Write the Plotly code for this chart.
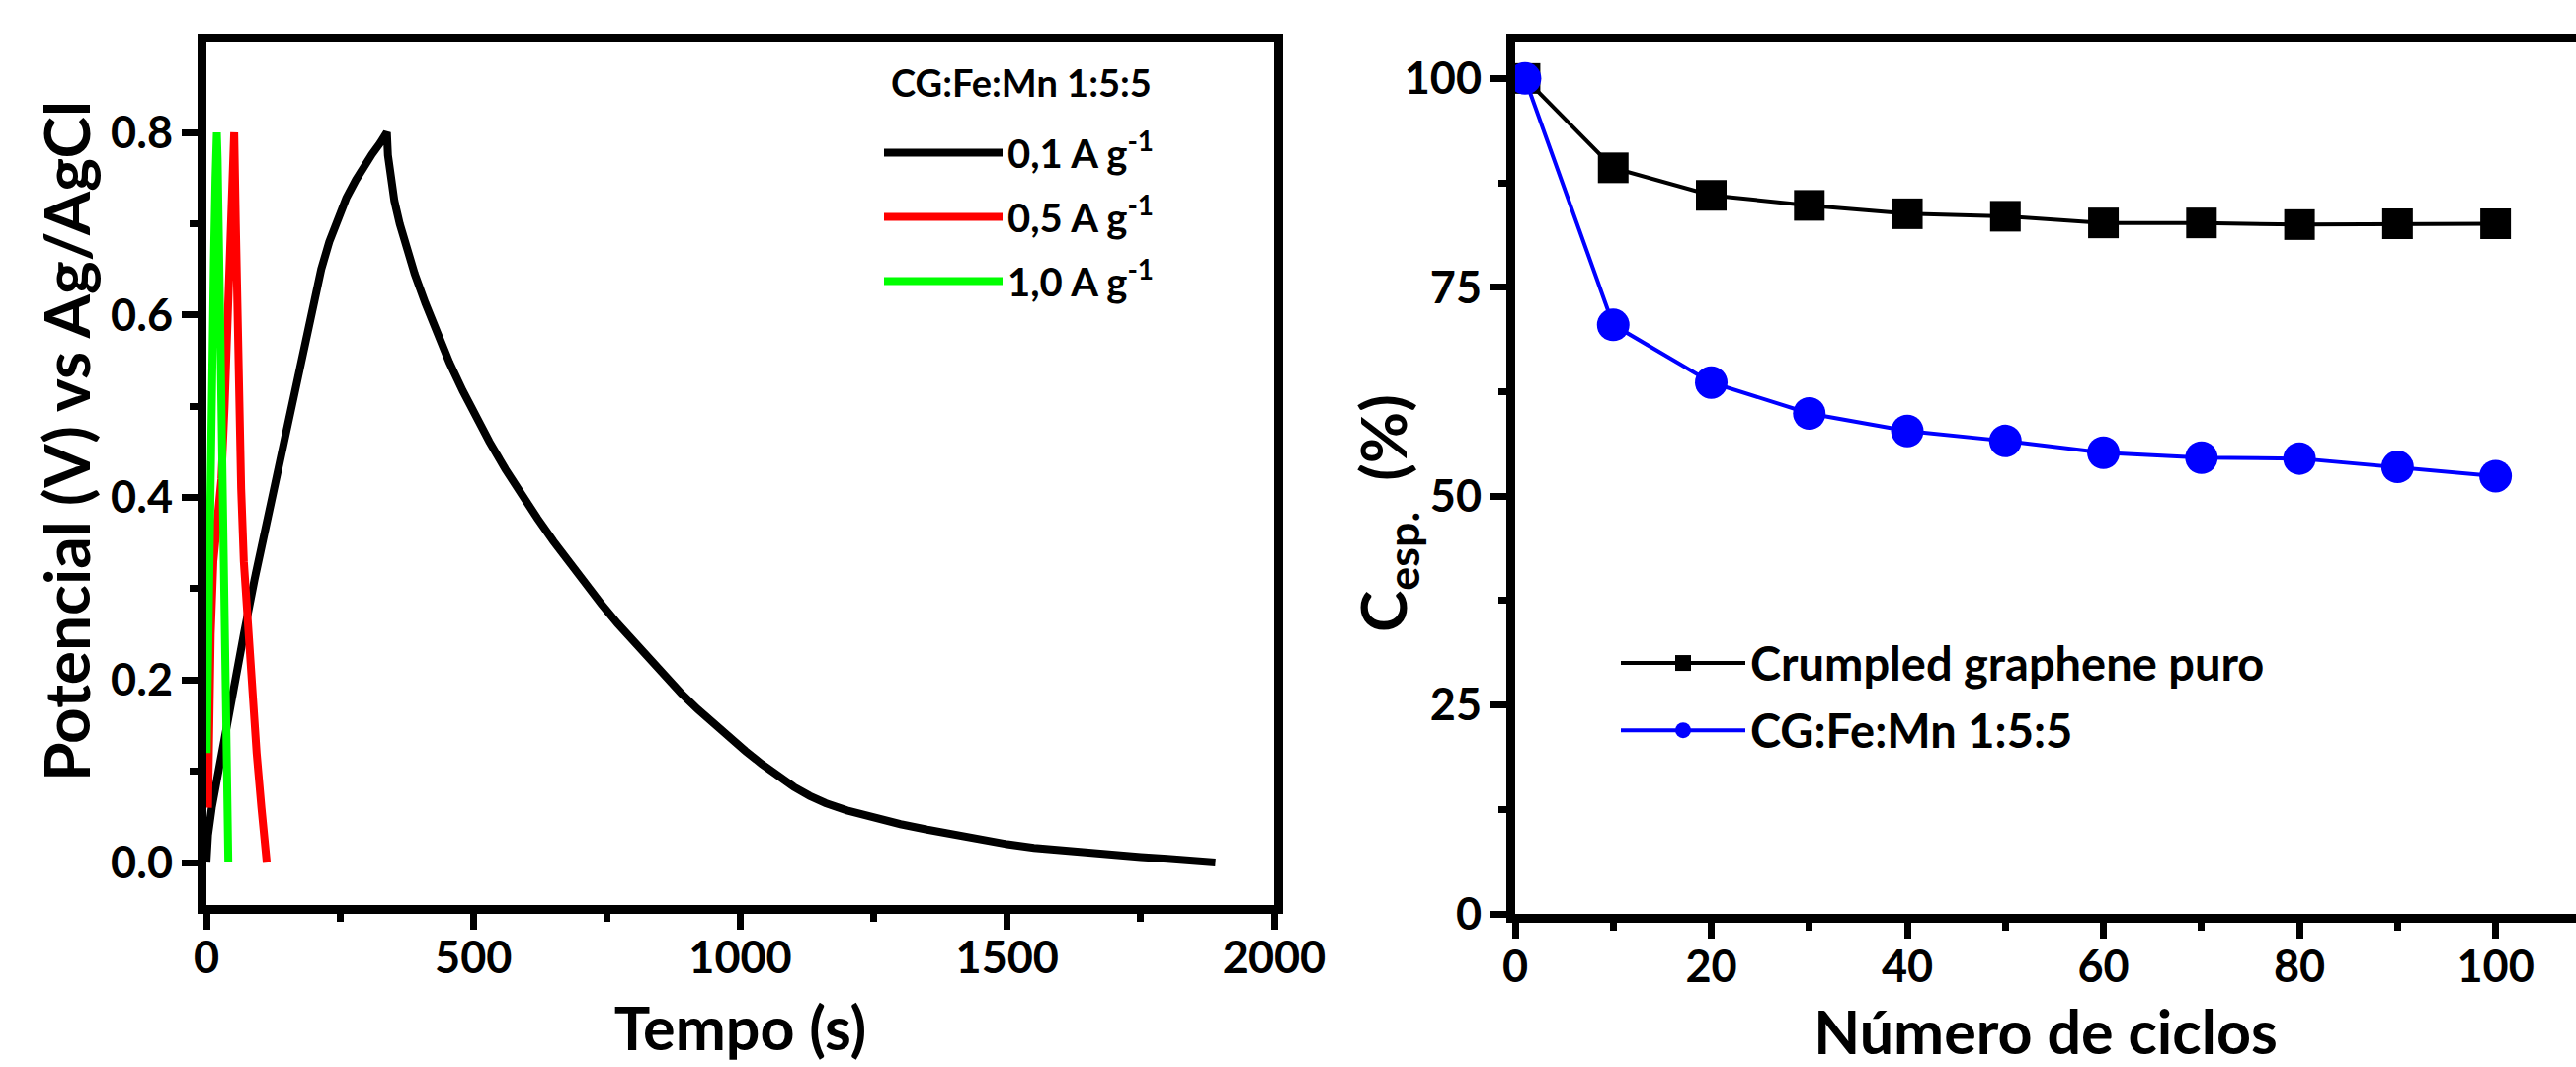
import plotly.graph_objects as go

# ---------------- Data ----------------
# Left panel: galvanostatic charge/discharge, CG:Fe:Mn 1:5:5
t_01 = [0, 3, 10, 25, 40, 55, 70, 90, 110, 130, 150, 168, 185, 200, 215, 230, 245,
        262, 280, 295, 310, 325, 338,
        340, 345, 352, 362, 375, 390, 410, 430, 455, 480, 505, 530, 560, 590, 620,
        650, 680, 710, 740, 770, 800, 830, 860, 890, 920, 950, 980, 1010, 1040,
        1070, 1100, 1130, 1160, 1200, 1250, 1300, 1350, 1400, 1450, 1500, 1550,
        1600, 1650, 1700, 1750, 1800, 1850, 1890]
v_01 = [0.0, 0.03, 0.06, 0.11, 0.16, 0.205, 0.25, 0.31, 0.365, 0.425, 0.48, 0.53, 0.575,
        0.615, 0.65, 0.68, 0.705, 0.728, 0.748, 0.763, 0.776, 0.788, 0.80,
        0.775, 0.75, 0.725, 0.70, 0.672, 0.645, 0.613, 0.583, 0.548, 0.517, 0.488,
        0.461, 0.431, 0.403, 0.377, 0.352, 0.328, 0.305, 0.283, 0.262, 0.242, 0.222,
        0.203, 0.185, 0.168, 0.152, 0.137, 0.122, 0.108, 0.095, 0.083, 0.073, 0.065,
        0.057, 0.049, 0.042, 0.036, 0.030, 0.025, 0.020, 0.016, 0.013, 0.010, 0.008,
        0.006, 0.004, 0.002, 0.0]

t_05 = [3, 4, 8, 13, 20, 28, 34, 40, 46, 52,
        55, 58, 61, 65, 70, 77, 85, 94, 103, 113]
v_05 = [0.06, 0.12, 0.25, 0.33, 0.38, 0.42, 0.50, 0.60, 0.70, 0.80,
        0.70, 0.60, 0.50, 0.41, 0.33, 0.26, 0.19, 0.12, 0.06, 0.0]

t_10 = [0.5, 2, 5, 8, 11, 14, 17, 19.5,
        21, 24, 27, 30, 33, 36, 38.5, 41]
v_10 = [0.12, 0.20, 0.33, 0.45, 0.56, 0.66, 0.75, 0.80,
        0.77, 0.66, 0.52, 0.36, 0.22, 0.12, 0.06, 0.0]

# Right panel: capacitance retention vs cycle number
ciclos = [1, 10, 20, 30, 40, 50, 60, 70, 80, 90, 100]
cg_puro = [100, 89.3, 86.0, 84.8, 83.8, 83.5, 82.7, 82.7, 82.5, 82.6, 82.6]
cg_femn = [100, 70.5, 63.6, 59.9, 57.8, 56.6, 55.2, 54.6, 54.5, 53.5, 52.4]

left_names = ["0,1 A g<sup>-1</sup>", "0,5 A g<sup>-1</sup>", "1,0 A g<sup>-1</sup>"]
right_names = ["Crumpled graphene puro", "CG:Fe:Mn 1:5:5"]
left_legend_title = "CG:Fe:Mn 1:5:5"

# ---------------- Figure ----------------
W, H = 2608, 1080
FONT = "Lato"

fig = go.Figure()

for t, v, name, col, grp in [(t_01, v_01, left_names[0], "#000000", "a"),
                             (t_05, v_05, left_names[1], "#FF0000", "b"),
                             (t_10, v_10, left_names[2], "#00FF00", "c")]:
    fig.add_trace(go.Scatter(x=t, y=v, mode="lines", name=name,
                             line=dict(color=col, width=8),
                             xaxis="x", yaxis="y", legend="legend",
                             legendgroup=grp, cliponaxis=True))

fig.add_trace(go.Scatter(x=ciclos, y=cg_puro, mode="lines+markers", name=right_names[0],
                         line=dict(color="#000000", width=4),
                         marker=dict(symbol="square", size=31, color="#000000"),
                         xaxis="x2", yaxis="y2", legend="legend2", legendgroup="d",
                         cliponaxis=False))
fig.add_trace(go.Scatter(x=ciclos, y=cg_femn, mode="lines+markers", name=right_names[1],
                         line=dict(color="#0000FF", width=4),
                         marker=dict(symbol="circle", size=33, color="#0000FF"),
                         xaxis="x2", yaxis="y2", legend="legend2", legendgroup="e",
                         cliponaxis=False))

tickfont = dict(family=FONT, size=45, color="black", weight="bold")
titlefont = dict(family=FONT, size=61, color="black", weight="bold")
ytitlefont = dict(family=FONT, size=64, color="black", weight="bold")


def axis(**kw):
    base = dict(showline=True, linewidth=9, linecolor="black",
                ticks="outside", ticklen=16, tickwidth=7, tickcolor="black",
                showgrid=False, zeroline=False, tickfont=tickfont,
                title_font=titlefont, automargin=False)
    base.update(kw)
    return base


minor_style = dict(ticks="outside", ticklen=8, tickwidth=7, tickcolor="black", showgrid=False)

fig.update_layout(
    width=W, height=H,
    margin=dict(l=0, r=0, t=0, b=0, autoexpand=False),
    paper_bgcolor="white", plot_bgcolor="white",
    font=dict(family=FONT, color="black", weight="bold"),
    xaxis=axis(domain=[209 / W, 1290 / W], range=[0, 2000], dtick=500, tick0=0,
               mirror=True, anchor="y", ticklabelstandoff=-10,
               minor=dict(dtick=250, tick0=0, **minor_style),
               title=dict(text="Tempo (s)", standoff=30)),
    yaxis=axis(domain=[1 - 916 / H, 1 - 43 / H], range=[-0.0465, 0.8985], dtick=0.2, tick0=0,
               tickformat=".1f", mirror=True, anchor="x",
               minor=dict(dtick=0.1, tick0=0, **minor_style)),
    xaxis2=axis(domain=[1534 / W, 1.0], range=[0, 108.2], dtick=20, tick0=0,
                mirror=True, anchor="y2", ticklabelstandoff=-10,
                minor=dict(dtick=10, tick0=0, **minor_style),
                title=dict(text="Número de ciclos", standoff=36)),
    yaxis2=axis(domain=[1 - 925 / H, 1 - 43 / H], range=[0, 104.3], dtick=25, tick0=0,
                mirror=False, anchor="x2",
                minor=dict(dtick=12.5, tick0=0, **minor_style)),
    legend=dict(x=890 / W, y=1 - 122 / H, xanchor="left", yanchor="top",
                bgcolor="rgba(0,0,0,0)", borderwidth=0,
                font=dict(family=FONT, size=40, color="black", weight="bold"),
                itemwidth=120, tracegroupgap=10, traceorder="grouped"),
    legend2=dict(x=1636 / W, y=1 - 634 / H, xanchor="left", yanchor="top",
                 bgcolor="rgba(0,0,0,0)", borderwidth=0,
                 font=dict(family=FONT, size=47, color="black", weight="bold"),
                 itemwidth=126, tracegroupgap=4, traceorder="grouped"),
    annotations=[
        dict(text=left_legend_title, xref="paper", yref="paper",
             x=900 / W, y=1 - 83 / H, xanchor="left", yanchor="middle", showarrow=False,
             font=dict(family=FONT, size=38, color="black", weight="bold")),
        dict(text="Potencial (V) vs Ag/AgCl", textangle=-90, xref="paper", yref="paper",
             x=67 / W, y=1 - 447 / H, xanchor="center", yanchor="middle", showarrow=False,
             font=ytitlefont),
        dict(text="C<sub>esp.</sub>  (%)", textangle=-90, xref="paper", yref="paper",
             x=1404 / W, y=1 - 520 / H, xanchor="center", yanchor="middle", showarrow=False,
             font=ytitlefont),
    ],
)

fig.write_html("out.html",
               config={"displayModeBar": False},
               post_script="document.body.style.margin='0px';document.body.style.overflow='hidden';")
